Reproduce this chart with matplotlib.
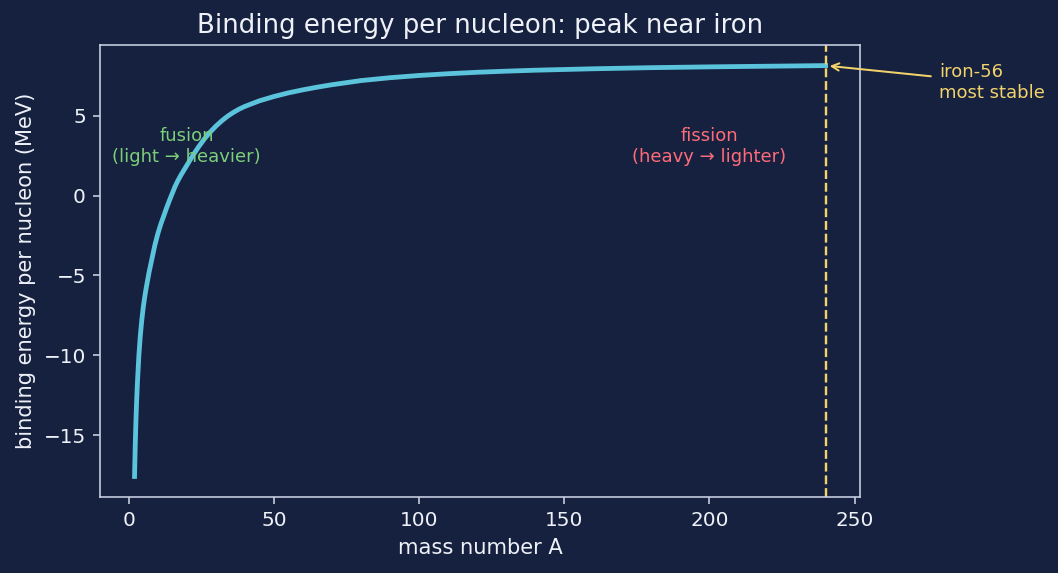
import matplotlib
matplotlib.use("Agg")
import matplotlib.pyplot as plt

# values
mass_number = [2, 2.25, 2.5, 2.75, 3, 3.5, 4, 4.5, 5, 5.5, 6, 7, 8, 9, 10, 11, 12, 13, 14,
               15, 16, 17, 18, 19, 20, 22, 24, 26, 28, 30, 32, 34, 36, 38, 40, 45, 50,
               55, 60, 65, 70, 75, 80, 90, 100, 110, 120, 130, 140, 160, 180, 200, 220, 240]
binding_energy = [-17.6, -15.6, -14.0, -12.75, -11.7, -10.0, -8.75, -7.8, -7.0, -6.35, -5.8,
                  -4.8, -3.95, -3.1, -2.4, -1.8, -1.3, -0.78, -0.3,
                  0.15, 0.6, 0.97, 1.3, 1.6, 1.9, 2.5, 3.05, 3.55, 3.98, 4.36, 4.69, 4.98,
                  5.22, 5.43, 5.6, 5.95, 6.22,
                  6.45, 6.64, 6.81, 6.96, 7.09, 7.22, 7.40, 7.54, 7.65, 7.74, 7.81, 7.87,
                  7.96, 8.03, 8.08, 8.12, 8.16]
peak_a = 240
peak_label = "iron-56\nmost stable"

bg = "#16213f"
fg = "#eef1f7"
spine = "#c9d1e3"
curve = "#5bc3dc"
gold = "#f2d36b"
green = "#7ccf7a"
red = "#ff6b7a"

fig = plt.figure(figsize=(1058 / 144, 573 / 144), dpi=144, facecolor=bg)
ax = fig.add_axes([0.0945, 0.1326, 0.7185, 0.7888], facecolor=bg)

ax.plot(mass_number, binding_energy, color=curve, lw=2.4)
ax.axvline(peak_a, color=gold, lw=1.2, ls="--")

peak_val = binding_energy[mass_number.index(peak_a)]
ax.annotate(peak_label, xy=(peak_a, peak_val), xytext=(279, 7.1),
            color=gold, fontsize=9, ha="left", va="center",
            arrowprops=dict(arrowstyle="->", color=gold, lw=1.0),
            annotation_clip=False)

ax.text(20, 3.1, "fusion\n(light \u2192 heavier)", color=green, fontsize=9,
        ha="center", va="center")
ax.text(200, 3.1, "fission\n(heavy \u2192 lighter)", color=red, fontsize=9,
        ha="center", va="center")

ax.set_title("Binding energy per nucleon: peak near iron", color=fg, fontsize=13)
ax.set_xlabel("mass number A", color=fg, fontsize=10.5)
ax.set_ylabel("binding energy per nucleon (MeV)", color=fg, fontsize=10.5)
ax.tick_params(colors=spine, labelcolor=fg, labelsize=10)
for s in ax.spines.values():
    s.set_color(spine)

fig.savefig("out.png", dpi=144, facecolor=bg)
